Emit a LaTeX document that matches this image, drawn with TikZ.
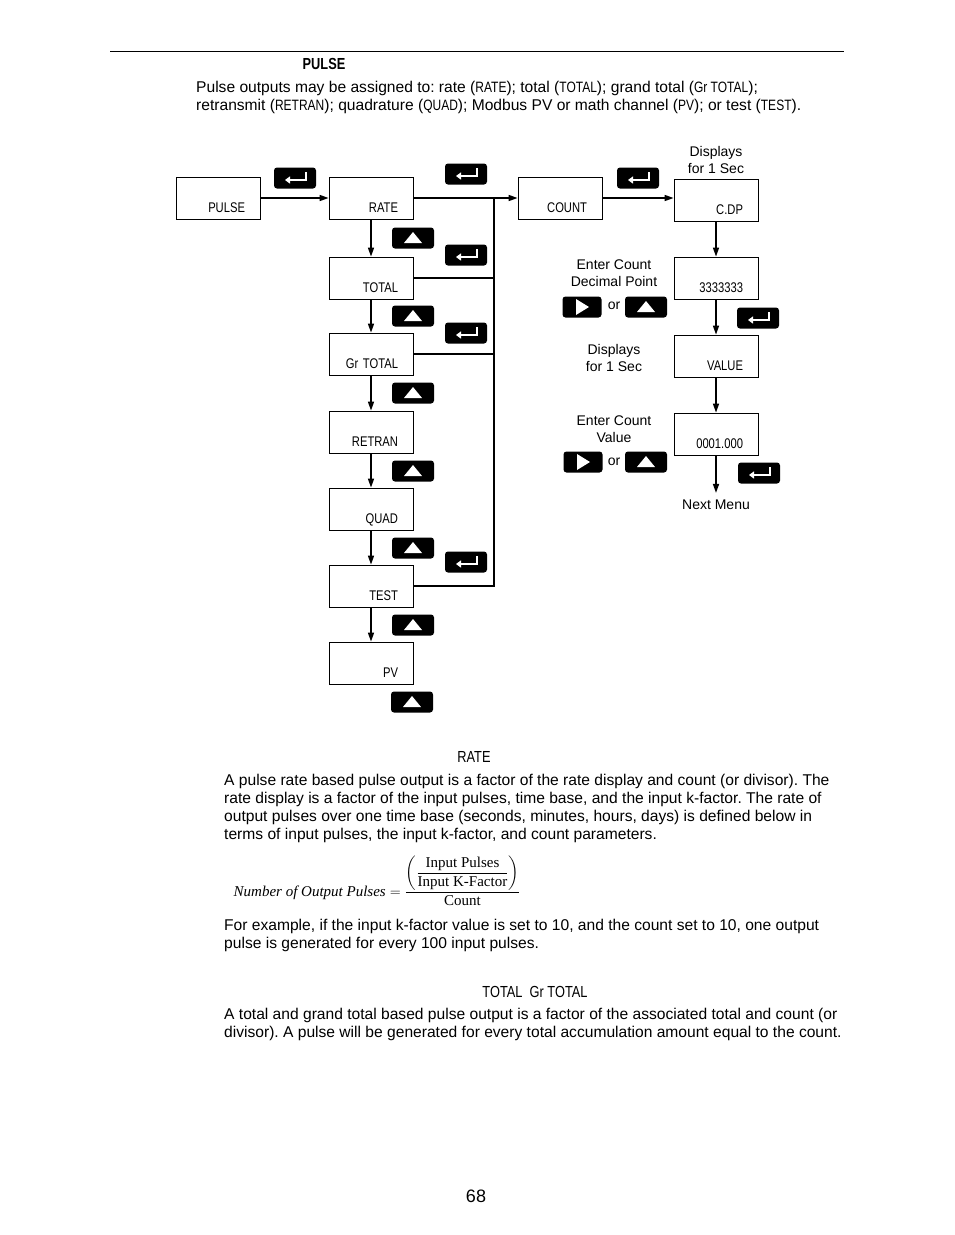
\documentclass[tikz,border=0pt]{standalone}
\usepackage{amsmath}
\usepackage{fontspec}
\setmainfont{Liberation Sans}
\newfontfamily\lcdfont[FakeStretch=0.8]{Liberation Sans}
\newfontfamily\formfont{Liberation Serif}
\newcommand{\lcdtxt}[1]{{\lcdfont\fontsize{15}{15}\selectfont #1}}
\usetikzlibrary{arrows.meta}
\frenchspacing

\begin{document}
\begin{tikzpicture}[x=1pt,y=-1pt,
  disp/.style={draw,line width=0.8pt,minimum width=84pt,minimum height=42pt,inner sep=0pt,
    text width=54pt,align=right,text height=28pt,text depth=0pt,
    font=\lcdfont\fontsize{14}{14}\selectfont},
  arr/.style={line width=1.5pt,-{Triangle[length=9pt,width=6pt]}},
  bus/.style={line width=1.5pt},
  key/.style={fill=black,rounded corners=3pt,minimum width=42pt,minimum height=21pt,inner sep=0pt},
  enterkey/.style={key,path picture={
    \draw[white,sharp corners,line width=1.6pt,-{Triangle[length=5pt,width=7pt]}]
      ([shift={(11pt,6pt)}]path picture bounding box.center)
      -- ([shift={(11pt,-2pt)}]path picture bounding box.center)
      -- ([shift={(-10pt,-2pt)}]path picture bounding box.center);}},
  upkey/.style={key,path picture={
    \fill[white,sharp corners] ([shift={(-9pt,-5pt)}]path picture bounding box.center)
      -- ([shift={(9pt,-5pt)}]path picture bounding box.center)
      -- ([shift={(0pt,6pt)}]path picture bounding box.center) -- cycle;}},
  rightkey/.style={key,minimum width=39pt,path picture={
    \fill[white,sharp corners] ([shift={(-6pt,8pt)}]path picture bounding box.center)
      -- ([shift={(-6pt,-8pt)}]path picture bounding box.center)
      -- ([shift={(7pt,0pt)}]path picture bounding box.center) -- cycle;}},
  lbl/.style={align=center,inner sep=0pt,font=\fontsize{14}{16.5}\selectfont},
  para/.style={align=left,inner sep=0pt,anchor=north west,font=\fontsize{15.6}{18}\selectfont},
  head/.style={inner sep=0pt,font=\lcdfont\fontsize{16}{16}\selectfont}]
\useasboundingbox (0,0) rectangle (954,1235);

% header and intro text
\draw[line width=0.8pt] (110,51) -- (844,51);
\node[head] (hpulse) at (324,64) {\bfseries PULSE};
\node[para] (intro) at (196,81) {Pulse outputs may be assigned to: rate (\lcdtxt{RATE}); total (\lcdtxt{TOTAL}); grand total (\lcdtxt{Gr TOTAL});\\
retransmit (\lcdtxt{RETRAN}); quadrature (\lcdtxt{QUAD}); Modbus PV or math channel (\lcdtxt{PV}); or test (\lcdtxt{TEST}).};

% menu displays
\node[disp] (pulse) at (218,198) {PULSE};
\node[disp] (rate) at (371,198) {RATE};
\node[disp] (total) at (371,278) {TOTAL};
\node[disp] (grtotal) at (371,354) {Gr TOTAL};
\node[disp] (retran) at (371,432) {RETRAN};
\node[disp] (quad) at (371,509) {QUAD};
\node[disp] (test) at (371,586) {TEST};
\node[disp] (pv) at (371,663) {PV};
\node[disp] (count) at (560,198) {COUNT};
\node[disp] (cdp) at (716,200) {C.DP};
\node[disp] (dpnt) at (716,278) {3333333};
\node[disp] (value) at (716,356) {VALUE};
\node[disp] (cval) at (716,434) {0001.000};

% keys
\foreach \p [count=\i] in {(295,178),(466,174),(638,178),(466,255),(466,333),(466,562),(758,318),(759,473)}
  \node[enterkey] (ent\i) at \p {};
\foreach \p [count=\i] in {(413,238),(413,316),(413,393),(413,471),(413,548),(413,625),(412,702),(646,307),(646,462)}
  \node[upkey] (up\i) at \p {};
\node[rightkey] (rt1) at (582,307) {};
\node[rightkey] (rt2) at (583,462) {};

% labels
\node[lbl] (l1) at (716,160) {Displays\\for 1 Sec};
\node[lbl] (l2) at (614,273) {Enter Count\\Decimal Point};
\node[lbl] (or1) at (614,306) {or};
\node[lbl] (l3) at (614,358) {Displays\\for 1 Sec};
\node[lbl] (l4) at (614,429) {Enter Count\\Value};
\node[lbl] (or2) at (614,462) {or};
\node[lbl] (next) at (716,505) {Next Menu};

% connectors
\coordinate (bustop) at (494,198);
\draw[arr] (pulse.east) -- (pulse.east -| rate.west);
\draw[arr] (rate.east) -- (count.west);
\draw[arr] (count.east) -- (count.east -| cdp.west);
\draw[bus] (bustop) |- (test.east);
\draw[bus] (total.east) -- (total.east -| bustop);
\draw[bus] (grtotal.east) -- (grtotal.east -| bustop);
\draw[arr] (rate) -- (total);
\draw[arr] (total) -- (grtotal);
\draw[arr] (grtotal) -- (retran);
\draw[arr] (retran) -- (quad);
\draw[arr] (quad) -- (test);
\draw[arr] (test) -- (pv);
\draw[arr] (cdp) -- (dpnt);
\draw[arr] (dpnt) -- (value);
\draw[arr] (value) -- (cval);
\draw[arr,shorten >=7pt] (cval) -- (next);

% rate section
\node[head] (hrate) at (474,757) {RATE};
\node[para] (ratetxt) at (224,774) {A pulse rate based pulse output is a factor of the rate display and count (or divisor). The\\
rate display is a factor of the input pulses, time base, and the input k-factor. The rate of\\
output pulses over one time base (seconds, minutes, hours, days) is defined below in\\
terms of input pulses, the input k-factor, and count parameters.};
\node[inner sep=0pt,font=\fontsize{15}{15}\selectfont] (formula) at (377,881)
  {$\displaystyle \text{\formfont\itshape Number of Output Pulses} = \frac{\left(\dfrac{\text{\formfont Input Pulses}}{\text{\formfont Input K-Factor}}\right)}{\text{\formfont Count}}$};
\node[para] (example) at (224,919) {For example, if the input k-factor value is set to 10, and the count set to 10, one output\\
pulse is generated for every 100 input pulses.};

% total section
\node[head] (htotal) at (535,992) {TOTAL\ \ Gr TOTAL};
\node[para] (totaltxt) at (224,1008) {A total and grand total based pulse output is a factor of the associated total and count (or\\
divisor). A pulse will be generated for every total accumulation amount equal to the count.};
\node[inner sep=0pt,font=\fontsize{18}{18}\selectfont] (pageno) at (476,1196) {68};
\end{tikzpicture}
\end{document}
